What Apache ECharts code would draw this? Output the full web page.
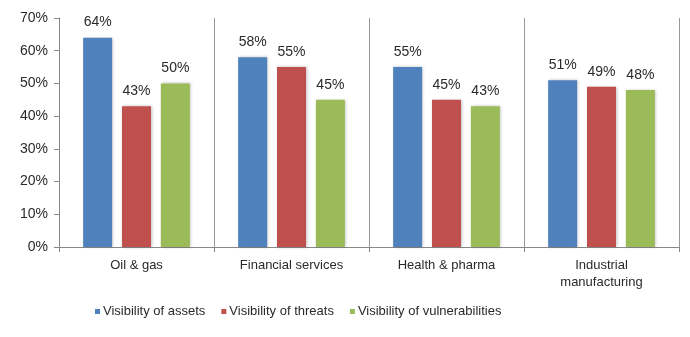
<!DOCTYPE html>
<html><head><meta charset="utf-8">
<script src="https://cdn.jsdelivr.net/npm/echarts@6/dist/echarts.min.js"></script>
<style>html,body{margin:0;padding:0;background:#fff}#c{width:690px;height:337px}</style>
</head><body><div id="c"></div>
<script>
const categories = ['Oil & gas', 'Financial services', 'Health & pharma', 'Industrial\nmanufacturing'];
const seriesNames = ['Visibility of assets', 'Visibility of threats', 'Visibility of vulnerabilities'];
const assets = [64, 58, 55, 51];
const threats = [43, 55, 45, 49];
const vulnerabilities = [50, 45, 43, 48];
const yTicks = [0, 10, 20, 30, 40, 50, 60, 70];
const colors = ['#4F81BD', '#C0504D', '#9BBB59'];
const font = 'Liberation Sans, Arial, sans-serif';

const chart = echarts.init(document.getElementById('c'));
const mk = (name, data, i) => ({
  name, type: 'bar', data, barWidth: 29, barGap: '34%',
  itemStyle: { color: colors[i], shadowColor: 'rgba(0,0,0,0.25)', shadowBlur: 3, shadowOffsetX: 1, shadowOffsetY: 0 },
  label: { show: true, position: 'top', distance: 8, formatter: '{c}%', fontFamily: font, fontSize: 14, color: '#2a2a2a' }
});
chart.setOption({
  animation: false,
  textStyle: { fontFamily: font },
  grid: { left: 59, right: 11, top: 18, bottom: 90, containLabel: false },
  legend: {
    bottom: 14, left: 90, itemWidth: 5, itemHeight: 5, itemGap: 16, icon: 'rect',
    textStyle: { fontFamily: font, fontSize: 13, color: '#2a2a2a', padding: [0, 0, 0, -2] },
    data: seriesNames
  },
  xAxis: {
    type: 'category', data: categories, boundaryGap: true,
    axisLine: { lineStyle: { color: '#888' } },
    axisTick: { show: true, length: 5, lineStyle: { color: '#888' } },
    splitLine: { show: true, lineStyle: { color: '#999', width: 1 } },
    axisLabel: { fontFamily: font, fontSize: 13, color: '#2a2a2a', margin: 10, lineHeight: 17, interval: 0 }
  },
  yAxis: {
    type: 'value', min: yTicks[0], max: yTicks[yTicks.length - 1], interval: 10,
    axisLine: { show: true, lineStyle: { color: '#888' } },
    axisTick: { show: true, length: 5, lineStyle: { color: '#888' } },
    splitLine: { show: false },
    axisLabel: { formatter: '{value}%', fontFamily: font, fontSize: 14, color: '#2a2a2a', margin: 11 }
  },
  series: [mk(seriesNames[0], assets, 0), mk(seriesNames[1], threats, 1), mk(seriesNames[2], vulnerabilities, 2)]
});
</script></body></html>
